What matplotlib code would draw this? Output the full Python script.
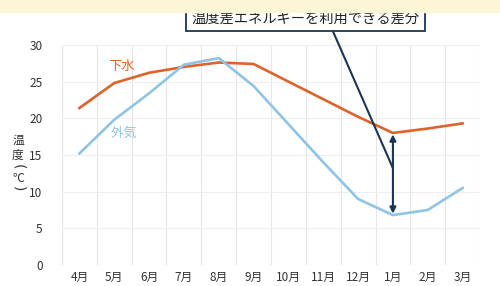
import matplotlib.pyplot as plt
from matplotlib.patches import Rectangle

plt.rcParams['font.family'] = ['Noto Sans CJK JP', 'DejaVu Sans']

months = ['4月', '5月', '6月', '7月', '8月', '9月', '10月', '11月', '12月', '1月', '2月', '3月']
gesui = [21.4, 24.8, 26.2, 27.0, 27.6, 27.4, 25.0, 22.6, 20.2, 18.0, 18.6, 19.3]
gaiki = [15.2, 19.8, 23.4, 27.3, 28.2, 24.4, 19.2, 14.0, 9.0, 6.8, 7.5, 10.5]
yticks = [0, 5, 10, 15, 20, 25, 30]

orange = '#e0622b'
blue = '#8fc4e6'
navy = '#1c3552'

fig = plt.figure(figsize=(5, 2.86), dpi=100)
fig.patches.append(Rectangle((0, 0.958), 1, 0.042, transform=fig.transFigure,
                             color='#fdf6d6', zorder=0))
ax = fig.add_axes([0.124, 0.0734, 0.836, 0.7696])
x = range(len(months))
ax.plot(x, gesui, color=orange, lw=1.9)
ax.plot(x, gaiki, color=blue, lw=1.9)

ax.set_xlim(-0.5, 11.5)
ax.set_ylim(0, 30)
ax.set_xticks(list(x))
ax.set_xticklabels(months)
ax.set_xticks([i - 0.5 for i in range(13)], minor=True)
ax.set_yticks(yticks)
ax.grid(True, which='minor', axis='x', color='#e6e6e6', lw=0.8)
ax.grid(True, which='major', axis='y', color='#eeeeee', lw=0.8)
ax.tick_params(which='both', length=0)
ax.tick_params(axis='x', pad=4, labelsize=8.5, colors='#333333')
ax.tick_params(axis='y', pad=14, labelsize=8.5, colors='#333333')
for s in ax.spines.values():
    s.set_visible(False)

ax.text(0.83, 26.6, '下水', color=orange, fontsize=9.5)
ax.text(0.89, 17.4, '外気', color=blue, fontsize=9.5)

# 縦書きの軸ラベル
for ch, yp, rot, fs in [('温', 140, 0, 8.5), ('度', 155, 0, 8.5), ('(', 167, -90, 10),
                        ('℃', 178, 0, 8.5), (')', 189, -90, 10)]:
    fig.text(18 / 500, 1 - yp / 286, ch, ha='center', va='center',
             fontsize=fs, color='#333333', rotation=rot, family='DejaVu Sans'
             if ch in '()' else None)

# 差分の矢印
ax.annotate('', xy=(9, gaiki[9] + 0.2), xytext=(9, gesui[9] - 0.2),
            arrowprops=dict(arrowstyle='<|-|>', color=navy, lw=1.5,
                            mutation_scale=9, shrinkA=0, shrinkB=0))
ax.annotate('温度差エネルギーを利用できる差分', xy=(9, 13.2), xytext=(0.611, 0.934),
            textcoords='figure fraction', ha='center', va='center',
            fontsize=10.3, color='#222222',
            bbox=dict(boxstyle='square,pad=0.35', fc='white', ec=navy, lw=1.3),
            arrowprops=dict(arrowstyle='-', color=navy, lw=1.5, shrinkA=0, shrinkB=0,
                            relpos=(0.61, 0)),
            annotation_clip=False)

fig.savefig('out.png', dpi=100)
